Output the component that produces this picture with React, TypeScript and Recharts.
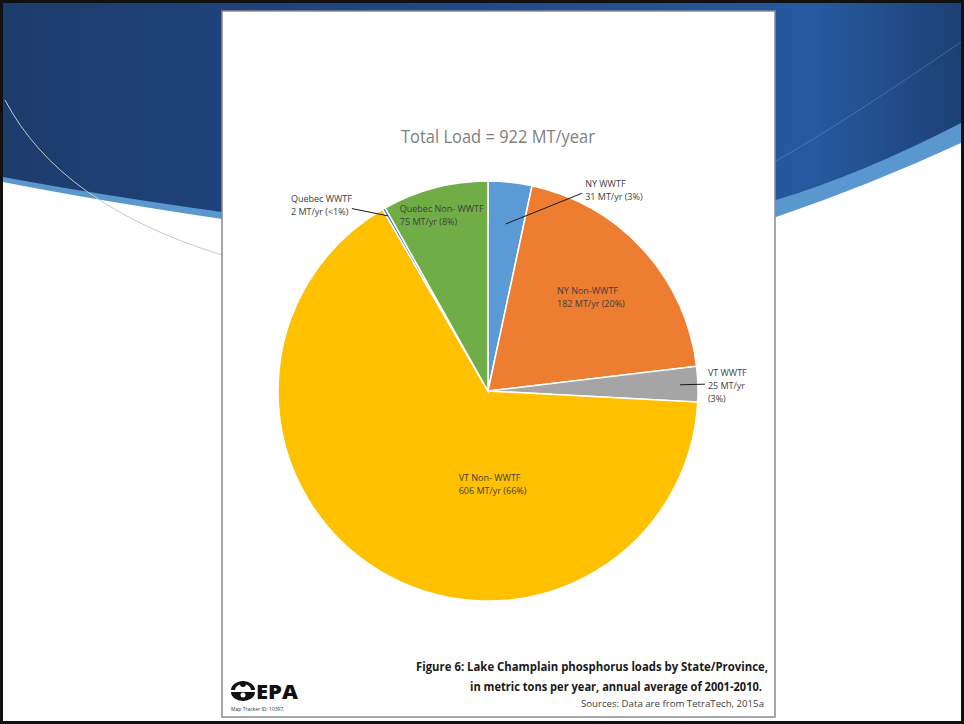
import { PieChart, Pie, Cell } from 'recharts'

const SOURCES = ['NY WWTF', 'NY Non-WWTF', 'VT WWTF', 'VT Non- WWTF', 'Quebec WWTF', 'Quebec Non- WWTF']
const LOADS = [31, 182, 25, 606, 2, 75]
const COLORS = ['#5B9BD5', '#ED7D31', '#A5A5A5', '#FFC000', '#4472C4', '#70AD47']
const TOTAL_LOAD = 922

// label placement per slice: anchor = point on mid angle at r*R, shifted by dx/dy
const LABEL_LAYOUT = [
  { r: 1.0, dx: 75, dy: 1, split: false, leader: [0.8, -3, 10] },
  { r: 0.67, dx: -35, dy: -6, split: false },
  { r: 1.0, dx: 10, dy: -12, split: true, leader: [0.915, -3, 12] },
  { r: 0.45, dx: 20, dy: 6, split: false },
  { r: 1.0, dx: -93, dy: -10, split: false, leader: [0.96, 61, 10] },
  { r: 0.87, dx: -42, dy: -6, split: false },
]

const RAD = Math.PI / 180
const FONT = '"Open Sans", "Noto Sans", sans-serif'

const data = SOURCES.map((name, i) => ({ name, value: LOADS[i] }))
const totalData = LOADS.reduce((s, v) => s + v, 0)

function pctText(v: number) {
  const p = (v / totalData) * 100
  if (p < 1) return '<1%'
  return `${Math.round(p)}%`
}

function polar(cx: number, cy: number, r: number, angle: number) {
  return { x: cx + r * Math.cos(-angle * RAD), y: cy + r * Math.sin(-angle * RAD) }
}

// eslint-disable-next-line @typescript-eslint/no-explicit-any
function renderLabel(props: any) {
  const { cx, cy, midAngle, outerRadius, index } = props
  const lay = LABEL_LAYOUT[index]
  const p = polar(cx, cy, outerRadius * lay.r, midAngle)
  const x = p.x + lay.dx
  const y = p.y + lay.dy
  const v = LOADS[index]
  const lines = lay.split
    ? [SOURCES[index], `${v} MT/yr`, `(${pctText(v)})`]
    : [SOURCES[index], `${v} MT/yr (${pctText(v)})`]
  let leader = null
  if (lay.leader) {
    const s = polar(cx, cy, outerRadius * lay.leader[0], midAngle)
    leader = <line x1={s.x} y1={s.y} x2={x + lay.leader[1]} y2={y + lay.leader[2]} stroke="#1a1a1a" strokeWidth={1} />
  }
  return (
    <g key={`lbl-${index}`}>
      {leader}
      {lines.map((t, k) => (
        <text key={k} x={x} y={y + k * 13} dominantBaseline="central" textAnchor="start"
          fontFamily={FONT} fontSize={9} fill="#404040">
          {t}
        </text>
      ))}
    </g>
  )
}

function Slide() {
  return (
    <svg width={964} height={724} style={{ position: 'absolute', left: 0, top: 0 }}>
      <defs>
        <linearGradient id="blueGrad" x1="0" y1="0" x2="1" y2="0">
          <stop offset="0" stopColor="#1C3C6C" />
          <stop offset="0.5" stopColor="#21498A" />
          <stop offset="0.85" stopColor="#2559A0" />
          <stop offset="1" stopColor="#1D4174" />
        </linearGradient>
      </defs>
      <rect x={0} y={0} width={964} height={724} fill="#fff" />
      <path d="M3,3 H961 V143 Q870,185 776,217 L222,219 Q100,201 3,182 Z" fill="#5A97CF" />
      <path d="M3,3 H961 V123 Q860,175 776,200 L222,212 Q100,195 3,177 Z" fill="url(#blueGrad)" />
      <path d="M776,161 Q840,125 961,42" fill="none" stroke="rgba(255,255,255,0.18)" strokeWidth={1} />
      <path d="M5,100 Q60,205 222,255" fill="none" stroke="#c8c8c8" strokeWidth={1} />
      <rect x={222} y={11} width={553} height={706} fill="#fff" stroke="#8a8a8a" strokeWidth={1.5} />
      <rect x={1.5} y={1.5} width={961} height={721} fill="none" stroke="#111" strokeWidth={3} />

      <text x={498} y={143} textAnchor="middle" fontFamily={FONT} fontSize={18} fill="#7F7F7F"
        textLength={194} lengthAdjust="spacingAndGlyphs">
        {`Total Load = ${TOTAL_LOAD} MT/year`}
      </text>

      <text x={768} y={671} textAnchor="end" fontFamily={FONT} fontSize={12.5} fontWeight={700} fill="#1a1a1a"
        textLength={352} lengthAdjust="spacingAndGlyphs">
        Figure 6: Lake Champlain phosphorus  loads by State/Province,
      </text>
      <text x={762} y={691} textAnchor="end" fontFamily={FONT} fontSize={12.5} fontWeight={700} fill="#1a1a1a"
        textLength={292} lengthAdjust="spacingAndGlyphs">
        in metric tons per year, annual average of 2001-2010.
      </text>
      <text x={764} y={707} textAnchor="end" fontFamily={FONT} fontSize={9} fill="#404040"
        textLength={183} lengthAdjust="spacingAndGlyphs">
        Sources: Data are from TetraTech, 2015a
      </text>

      {/* EPA logo */}
      <g fill="#111">
        <path d="M231,690 a12,9 0 0 1 24,0 h-4 a8,6 0 0 0 -16,0 z" />
        <circle cx={243} cy={684} r={3} />
        <path d="M231,692 h24 a12,9 0 0 1 -24,0 z" />
        <circle cx={243} cy={695} r={2.5} fill="#fff" />
      </g>
      <text x={256} y={699} fontFamily={FONT} fontSize={20} fontWeight={800} fill="#111"
        textLength={42} lengthAdjust="spacingAndGlyphs">EPA</text>
      <text x={231} y={711} fontFamily={FONT} fontSize={5} fill="#333">Map Tracker ID: 10397.</text>
    </svg>
  )
}

export default function App() {
  return (
    <div style={{ position: 'absolute', left: 0, top: 0, width: 964, height: 724, overflow: 'hidden' }}>
      <Slide />
      <div style={{ position: 'absolute', left: 0, top: 0 }}>
        <PieChart width={964} height={724} margin={{ top: 0, right: 0, bottom: 0, left: 0 }}>
          <Pie
            data={data}
            dataKey="value"
            nameKey="name"
            cx={488}
            cy={391}
            outerRadius={210}
            startAngle={90}
            endAngle={-270}
            stroke="#fff"
            strokeWidth={1.5}
            label={renderLabel}
            labelLine={false}
            isAnimationActive={false}
          >
            {data.map((_, i) => (
              <Cell key={`cell-${i}`} fill={COLORS[i]} />
            ))}
          </Pie>
        </PieChart>
      </div>
    </div>
  )
}
